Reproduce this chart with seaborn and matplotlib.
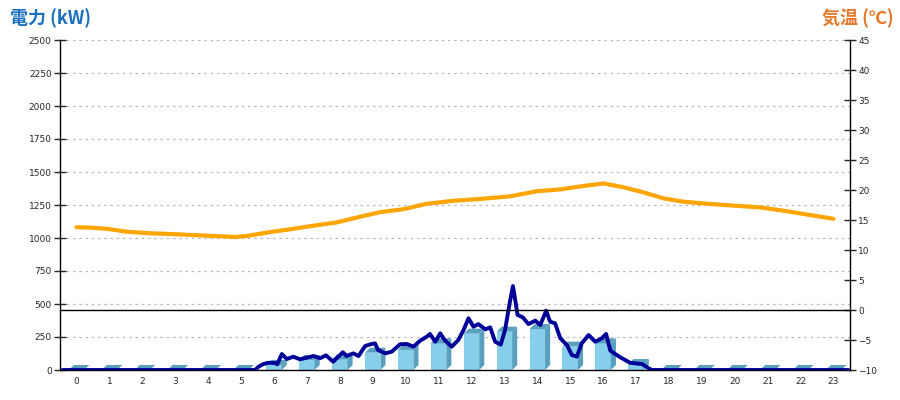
import matplotlib
matplotlib.use("Agg")
import matplotlib.pyplot as plt
from matplotlib.patches import Polygon
import seaborn as sns

# -------------------------
# Data
# -------------------------
hours = list(range(24))
hour_kw = [0, 0, 0, 0, 0, 0, 38, 76, 81, 131, 152, 202,
           275, 290, 310, 177, 202, 45, 0, 0, 0, 0, 0, 0]

power_hour = [-0.42, 5.43, 5.53, 5.68, 5.83, 6.03, 6.10, 6.24, 6.39, 6.59, 6.79,
              6.99, 7.20, 7.40, 7.58, 7.80, 8.09, 8.21, 8.41, 8.57, 8.77, 8.95,
              9.07, 9.16, 9.38, 9.58, 9.83, 10.04, 10.24, 10.44, 10.64, 10.74,
              10.90, 11.05, 11.20, 11.40, 11.60, 11.76, 11.91, 12.06, 12.21,
              12.42, 12.57, 12.72, 12.89, 13.02, 13.16, 13.26, 13.33, 13.40,
              13.56, 13.73, 13.94, 14.09, 14.27, 14.39, 14.54, 14.70, 14.90,
              15.05, 15.20, 15.35, 15.56, 15.76, 15.96, 16.09, 16.22, 16.52,
              16.82, 16.98, 17.18, 17.38, 17.48, 23.45]
power_kw = [0, 0, 25, 45, 55, 53, 43, 121, 83, 101, 81,
            93, 106, 89, 111, 63, 134, 106, 126, 106, 182, 196,
            202, 152, 126, 139, 195, 197, 177, 222, 252, 273,
            214, 278, 222, 177, 227, 303, 392, 328, 348,
            308, 323, 214, 192, 303, 505, 636, 530, 417,
            399, 348, 374, 341, 449, 366, 354, 240, 189,
            114, 101, 202, 265, 214, 240, 273, 146, 96,
            55, 50, 45, 13, 0, 0]

temp_hour = [0.0, 0.51, 0.97, 1.53, 2.18, 2.84, 3.50, 4.16, 4.82, 5.17, 5.78,
             6.49, 7.20, 7.91, 8.62, 9.22, 9.93, 10.64, 11.45, 12.36, 13.18,
             13.99, 14.70, 15.40, 16.01, 16.62, 17.23, 17.84, 18.44, 19.26,
             19.96, 20.78, 21.48, 22.29, 23.0]
temp_c = [13.8, 13.7, 13.5, 13.05, 12.8, 12.67, 12.5, 12.33, 12.17, 12.33, 12.9,
          13.45, 14.05, 14.6, 15.55, 16.3, 16.8, 17.7, 18.2, 18.55, 18.95,
          19.8, 20.1, 20.67, 21.1, 20.45, 19.6, 18.6, 18.05, 17.67,
          17.4, 17.1, 16.55, 15.83, 15.2]

kw_ticks = list(range(0, 2501, 250))
temp_ticks = list(range(-10, 46, 5))

# -------------------------
# Style
# -------------------------
sns.set_style("white")
plt.rcParams["font.family"] = ["DejaVu Sans"]

fig = plt.figure(figsize=(9, 4), dpi=100)
ax = fig.add_axes([60 / 900, 30 / 400, 790 / 900, 330 / 400])

# -------------------------
# Hourly bars (front face via seaborn, side/top faces added)
# -------------------------
sns.barplot(x=hours, y=hour_kw, native_scale=True, width=0.47,
            color="#87CEEB", saturation=1, linewidth=0, ax=ax, zorder=2)

depth_x = 0.155
depth_y = 38
for p in ax.patches:
    x0 = p.get_x()
    x1 = x0 + p.get_width()
    h = p.get_height()
    side = Polygon([(x1, 0), (x1 + depth_x, depth_y), (x1 + depth_x, h + depth_y), (x1, h)],
                   closed=True, facecolor="#5AA0BE", edgecolor="none", zorder=2)
    top = Polygon([(x0, h), (x1, h), (x1 + depth_x, h + depth_y), (x0 + depth_x, h + depth_y)],
                  closed=True, facecolor="#5AA0BE", edgecolor="none", zorder=2)
    ax.add_patch(side)
    ax.add_patch(top)

# power line
sns.lineplot(x=power_hour, y=power_kw, color="#000099", linewidth=2.8, ax=ax, zorder=4)

ax.set_xlim(-0.5, 23.5)
ax.set_ylim(0, 2500)
ax.set_xticks(hours)
ax.set_xticklabels([str(h) for h in hours])
ax.set_yticks(kw_ticks)
ax.set_yticklabels([str(t) for t in kw_ticks])
ax.yaxis.grid(True, linestyle=(0, (2, 3)), color="#bbbbbb", linewidth=0.9)
ax.xaxis.grid(False)
ax.set_axisbelow(True)
ax.tick_params(axis="x", length=0, pad=5, labelsize=6.5)
ax.tick_params(axis="y", direction="inout", length=8, width=1, pad=2, labelsize=6.5,
               left=True)
for s in ["left", "bottom"]:
    ax.spines[s].set_color("black")
    ax.spines[s].set_linewidth(1)
ax.spines["top"].set_visible(False)
ax.spines["right"].set_visible(False)
ax.set_xlabel("")
ax.set_ylabel("")

# -------------------------
# Temperature on twin axis
# -------------------------
ax2 = ax.twinx()
ax2.axhline(0, color="black", linewidth=1, zorder=3)
sns.lineplot(x=temp_hour, y=temp_c, color="#FFA500", linewidth=3, ax=ax2, zorder=5)
ax2.set_ylim(-10, 45)
ax2.set_yticks(temp_ticks)
ax2.set_yticklabels([str(t).replace("-", "\u2212") for t in temp_ticks])
ax2.tick_params(axis="y", direction="inout", length=8, width=1, pad=2, labelsize=6.5,
                right=True)
ax2.grid(False)
ax2.spines["right"].set_color("black")
ax2.spines["right"].set_linewidth(1)
for s in ["top", "left", "bottom"]:
    ax2.spines[s].set_visible(False)
ax2.set_ylabel("")

# -------------------------
# Axis titles
# -------------------------
cjk = ["Noto Sans CJK JP", "DejaVu Sans"]
fig.text(10 / 900, 1 - 18 / 400, "電力 (kW)", color="#1a6fbf", fontsize=13,
         fontweight="bold", family=cjk, ha="left", va="center")
fig.text(894 / 900, 1 - 18 / 400, "気温 (℃)", color="#E8782A", fontsize=13,
         fontweight="bold", family=cjk, ha="right", va="center")

fig.savefig("out.png", dpi=100)
